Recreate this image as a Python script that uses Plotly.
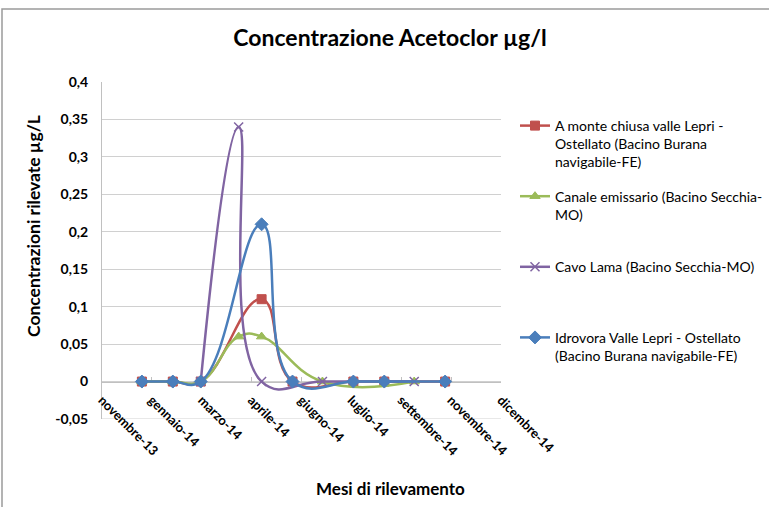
import plotly.graph_objects as go
from datetime import date, timedelta

# ---- data ----
sample_dates = ["2014-01-01", "2014-02-01", "2014-03-01", "2014-04-08", "2014-05-01",
                "2014-06-01", "2014-07-01", "2014-08-01", "2014-09-01", "2014-10-01",
                "2014-11-01"]
red_vals = [0, 0, 0, None, 0.11, 0, None, 0, 0, None, 0]
green_vals = [0, 0, 0, 0.06, 0.06, None, 0, None, None, 0, None]
purple_vals = [None, None, 0, 0.34, 0, None, 0, None, None, 0, None]
blue_vals = [0, 0, 0, None, 0.21, 0, None, 0, 0, None, 0]

series_names = [
    "A monte chiusa valle Lepri -<br>Ostellato (Bacino Burana<br>navigabile-FE)",
    "Canale emissario (Bacino Secchia-<br>MO)<br>\u00a0",
    "Cavo Lama (Bacino Secchia-MO)<br>\u00a0<br>\u00a0",
    "Idrovora Valle Lepri - Ostellato<br>(Bacino Burana navigabile-FE)<br>\u00a0",
]

axis_start = "2013-11-22"
tick_step_days = 50
x_tick_labels = ["novembre-13", "gennaio-14", "marzo-14", "aprile-14", "giugno-14",
                 "luglio-14", "settembre-14", "novembre-14", "dicembre-14"]
y_tick_vals = [-0.05, 0, 0.05, 0.1, 0.15, 0.2, 0.25, 0.3, 0.35, 0.4]
y_tick_text = ["-0,05", "0", "0,05", "0,1", "0,15", "0,2", "0,25", "0,3", "0,35", "0,4"]
y_min, y_max = -0.05, 0.4
x_axis_cross = 0

# ---- derived ----
d0 = date.fromisoformat(axis_start)
tick_dates = [(d0 + timedelta(days=tick_step_days * i)).isoformat() for i in range(len(x_tick_labels))]
x_range = [tick_dates[0], tick_dates[-1]]

FONT = "Lato, 'Open Sans', sans-serif"
colors = ["#C0504D", "#9BBB59", "#8064A2", "#4A7EBB"]
symbols = ["square", "triangle-up", "x-thin", "diamond"]
sizes = [9, 9, 9, 10]
values = [red_vals, green_vals, purple_vals, blue_vals]

fig = go.Figure()
for i, (name, vals) in enumerate(zip(series_names, values)):
    marker = dict(symbol=symbols[i], size=sizes[i], color=colors[i])
    if symbols[i] == "x-thin":
        marker["line"] = dict(color=colors[i], width=1.5)
    else:
        marker["line"] = dict(color=colors[i], width=1)
    fig.add_trace(go.Scatter(
        x=sample_dates, y=vals, name=name, mode="lines+markers",
        line=dict(color=colors[i], width=2.5, shape="spline", smoothing=1.3),
        marker=marker, connectgaps=True, legendgroup="g%d" % i,
    ))

W, H = 769, 507
L, R, T, B = 102, 268, 82, 88
pw, ph = W - L - R, H - T - B

def px_x(p):
    return (p - L) / pw

def px_y(p):
    return 1 - (p - T) / ph

GRID = "#d0d0d0"
fig.update_layout(
    width=W, height=H,
    margin=dict(l=L, r=R, t=T, b=B, autoexpand=False),
    paper_bgcolor="white", plot_bgcolor="white",
    separators=", ",
    font=dict(family=FONT, color="black"),
    title=dict(text="<b>Concentrazione Acetoclor µg/l</b>", x=390 / W, xanchor="center",
               y=1 - 38 / H, yanchor="middle", font=dict(size=23, family=FONT)),
    xaxis=dict(type="date", range=x_range, tickvals=tick_dates,
               ticktext=["<b>%s</b>" % t for t in x_tick_labels],
               tickangle=45, tickfont=dict(size=13, family=FONT),
               anchor="free", position=(x_axis_cross - y_min) / (y_max - y_min),
               side="bottom", ticks="inside", ticklen=5, tickcolor="#c0c0c0",
               showline=True, linecolor="#c0c0c0", linewidth=1, showgrid=False,
               zeroline=False, ticklabelstandoff=5, automargin=False,
               layer="below traces"),
    yaxis=dict(range=[y_min, y_max], tickvals=y_tick_vals,
               ticktext=["<b>%s</b>" % t for t in y_tick_text],
               tickfont=dict(size=14, family=FONT), showgrid=True, gridcolor=GRID,
               gridwidth=1, showline=True, linecolor="#c0c0c0", zeroline=False, ticks="",
               ticklabelstandoff=10, automargin=False, layer="below traces"),
    legend=dict(x=px_x(515), xanchor="left", y=px_y(110), yanchor="top",
                font=dict(size=14, family=FONT), valign="top", tracegroupgap=13,
                bgcolor="rgba(0,0,0,0)", itemwidth=30),
    showlegend=True,
    annotations=[
        dict(text="<b>Concentrazioni rilevate µg/L</b>", textangle=-90, xref="paper",
             yref="paper", x=px_x(33), y=px_y(226), xanchor="center", yanchor="middle",
             showarrow=False, font=dict(size=17.5, family=FONT)),
        dict(text="<b>Mesi di rilevamento</b>", xref="paper", yref="paper",
             x=px_x(390), y=px_y(488), xanchor="center", yanchor="middle",
             showarrow=False, font=dict(size=17, family=FONT)),
    ],
    shapes=[
        dict(type="rect", xref="paper", yref="paper", x0=px_x(2), x1=px_x(790),
             y0=px_y(9), y1=px_y(520), line=dict(color="#9a9a9a", width=1.5),
             layer="below"),
        dict(type="line", xref="paper", yref="y", x0=0, x1=1, y0=y_min, y1=y_min,
             line=dict(color=GRID, width=1), layer="below"),
    ],
)

fig.write_html("out.html", config={"displayModeBar": False},
               post_script="document.body.style.margin='0';document.body.style.overflow='hidden';")
